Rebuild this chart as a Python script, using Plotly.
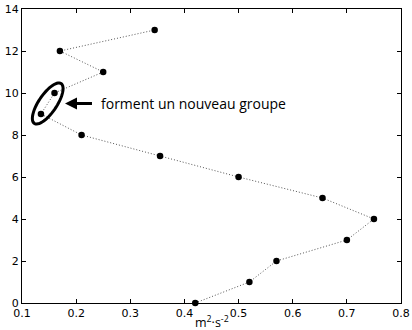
import numpy as np
import plotly.graph_objects as go

x_vals = [0.42, 0.52, 0.57, 0.70, 0.75, 0.655, 0.50, 0.355, 0.21, 0.135, 0.16, 0.25, 0.17, 0.345]
y_vals = [0, 1, 2, 3, 4, 5, 6, 7, 8, 9, 10, 11, 12, 13]
x_ticks = [0.1, 0.2, 0.3, 0.4, 0.5, 0.6, 0.7, 0.8]
y_ticks = [0, 2, 4, 6, 8, 10, 12, 14]
label_text = "forment un nouveau groupe"
x_title = "m<sup>2</sup>·s<sup>-2</sup>"

W, H = 412, 330
ml, mr, mt, mb = 22, 11, 9, 27
xr, yr = [0.1, 0.8], [0, 14]
kx = (W - ml - mr) / (xr[1] - xr[0])
ky = (H - mt - mb) / (yr[1] - yr[0])

fig = go.Figure()
fig.add_trace(go.Scatter(
    x=x_vals, y=y_vals, mode="lines+markers",
    line=dict(color="#555", width=1, dash="1px,2px"),
    marker=dict(color="black", size=6.5),
    cliponaxis=False, showlegend=False, hoverinfo="skip"))

# ellipse around the two grouped points (indices 9, 10)
cx = (x_vals[9] + x_vals[10]) / 2
cy = (y_vals[9] + y_vals[10]) / 2
a_px, b_px, ang = 24, 9, np.deg2rad(56)
t = np.linspace(0, 2 * np.pi, 60)
px = a_px * np.cos(t) * np.cos(ang) - b_px * np.sin(t) * np.sin(ang)
py = a_px * np.cos(t) * np.sin(ang) + b_px * np.sin(t) * np.cos(ang)
ex = cx + px / kx
ey = cy + py / ky
path = "M " + " L ".join(f"{a},{b}" for a, b in zip(ex, ey)) + " Z"
fig.add_shape(type="path", path=path, xref="x", yref="y",
              line=dict(color="black", width=3))

fig.add_annotation(x=0.1794, y=9.5, ax=0.232, ay=9.5, xref="x", yref="y",
                   axref="x", ayref="y", text="", showarrow=True,
                   arrowhead=2, arrowsize=0.8, arrowwidth=3, arrowcolor="black")
fig.add_annotation(x=0.2415, y=9.5, xref="x", yref="y", text=label_text,
                   showarrow=False, xanchor="left", yanchor="middle",
                   font=dict(family="Open Sans", size=14, color="black"))
fig.add_annotation(x=0.5, y=0, xref="paper", yref="paper", yshift=-19,
                   text=x_title, showarrow=False, xanchor="center", yanchor="middle",
                   font=dict(family="Open Sans", size=12.5, color="black"))

axis_common = dict(showline=True, linecolor="black", linewidth=1, mirror="ticks",
                   ticks="inside", ticklen=4, tickcolor="black", showgrid=False,
                   zeroline=False, automargin=False,
                   tickfont=dict(family="DejaVu Sans", size=11, color="black"))
fig.update_xaxes(range=xr, tickvals=x_ticks, ticktext=[str(v) for v in x_ticks],
                 **axis_common)
fig.update_yaxes(range=yr, tickvals=y_ticks, ticktext=[str(v) for v in y_ticks],
                 **axis_common)
fig.update_layout(width=W, height=H, margin=dict(l=ml, r=mr, t=mt, b=mb),
                  plot_bgcolor="white", paper_bgcolor="white", hovermode=False)
fig.write_html("out.html", config={"displayModeBar": False},
               post_script="document.body.style.margin='0px';")
